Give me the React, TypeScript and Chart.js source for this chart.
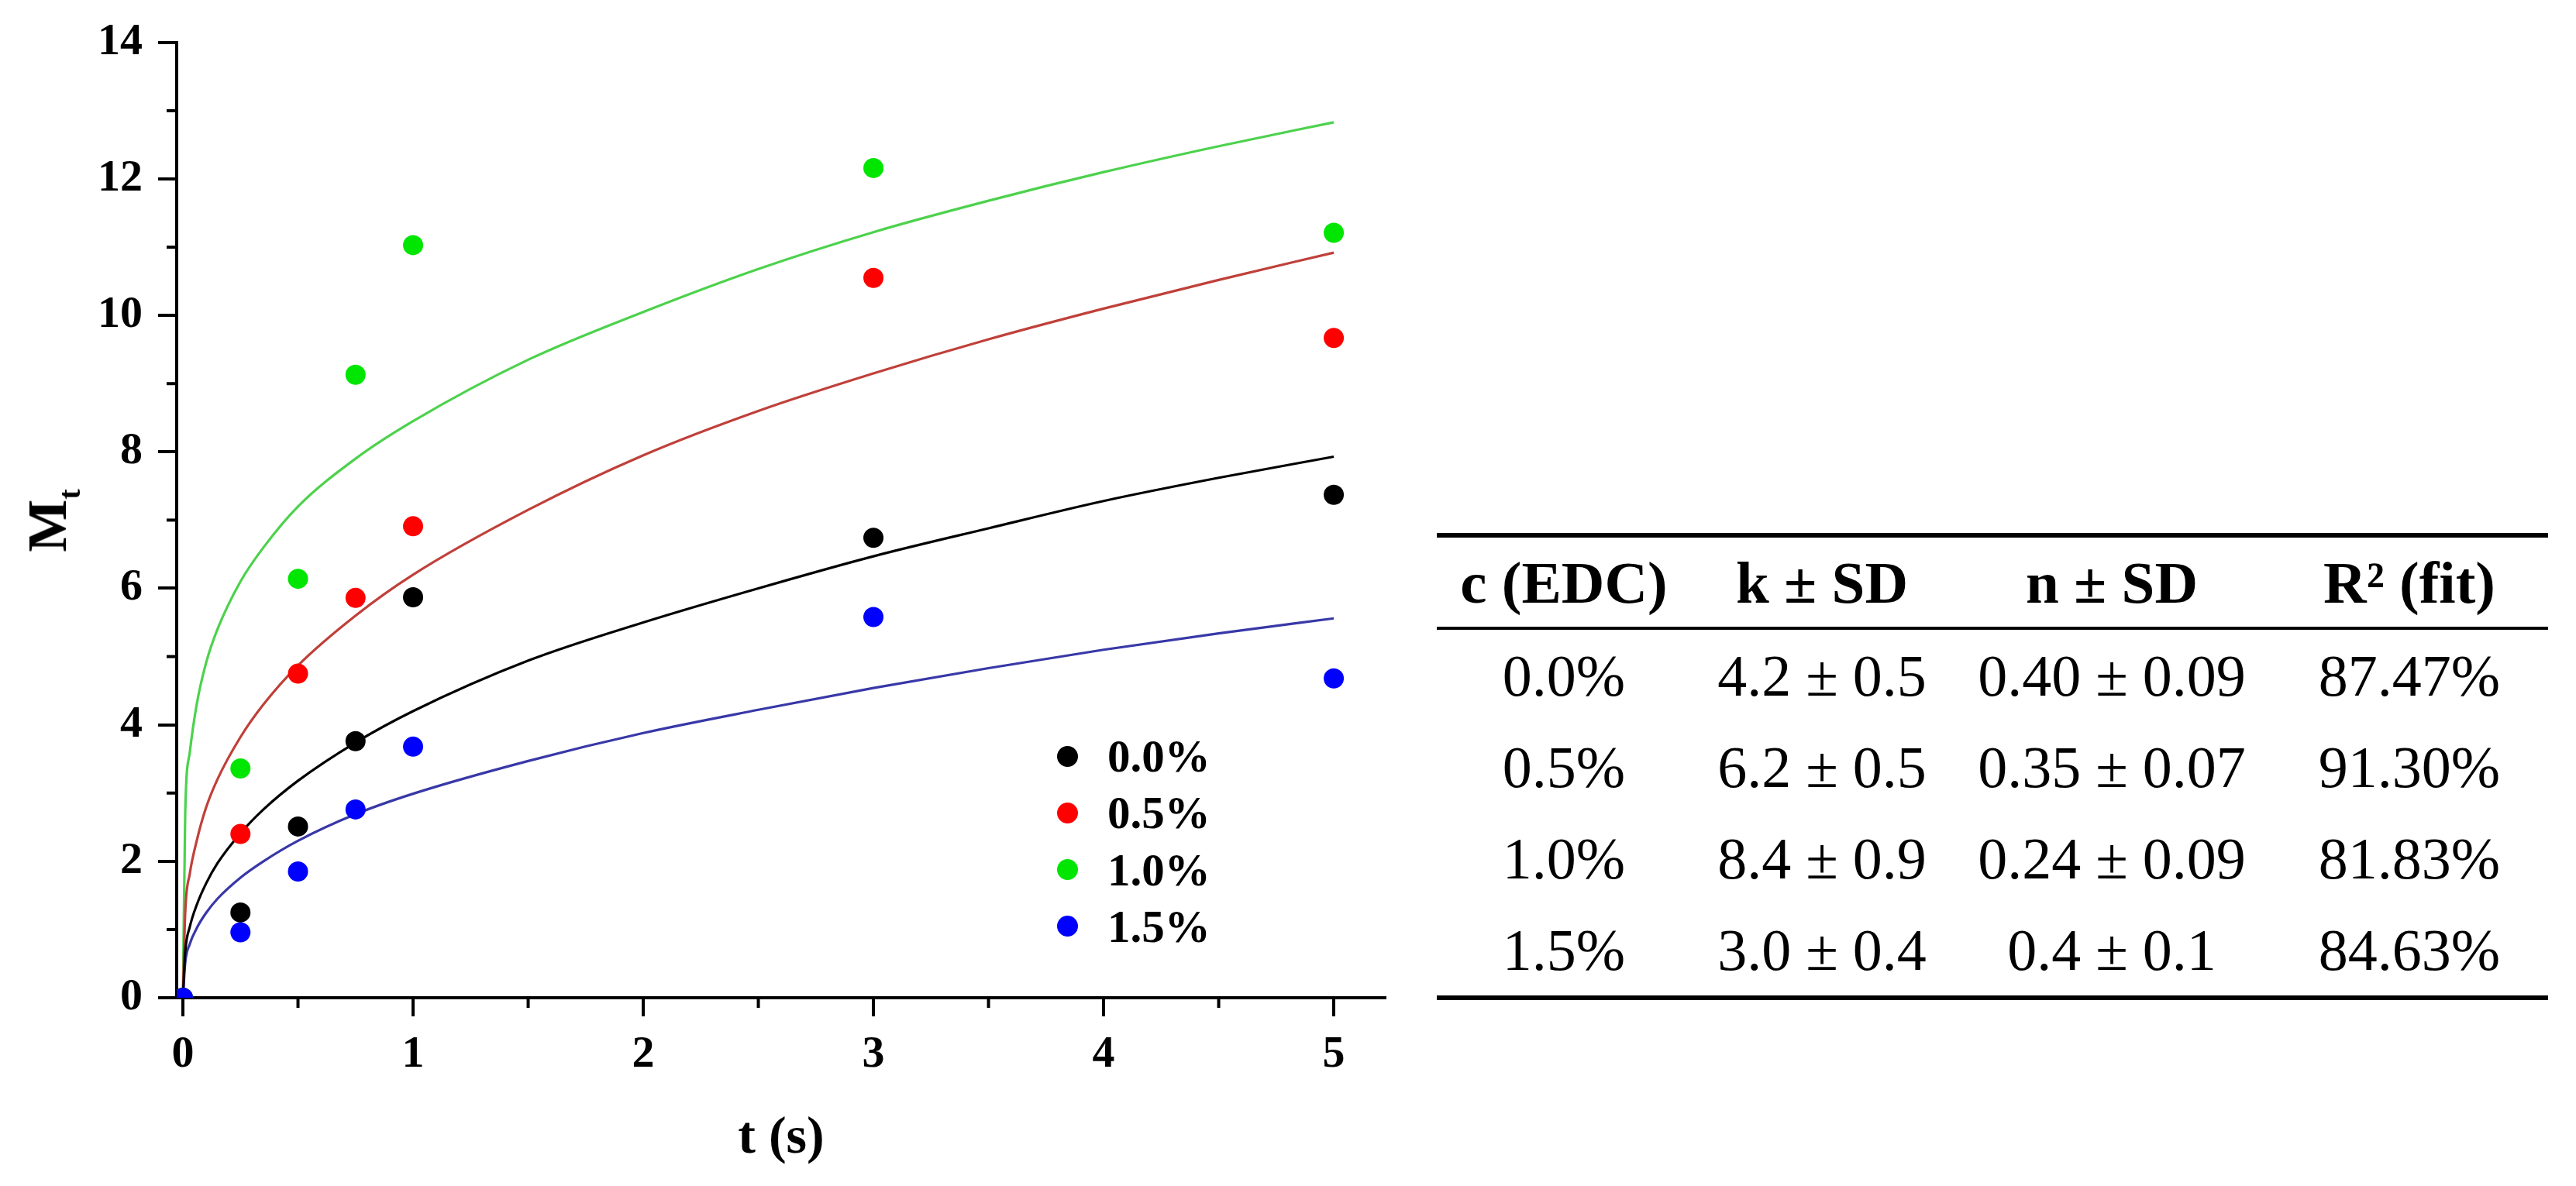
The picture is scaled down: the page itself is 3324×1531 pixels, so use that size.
import React, { useEffect, useRef } from "react";
import { Chart, registerables } from "chart.js";

Chart.register(...registerables);

// ---- data ----
const seriesLabels = ["0.0%", "0.5%", "1.0%", "1.5%"];
const pointColors = ["#000000", "#ff0000", "#00e600", "#0000ff"];
const lineColors = ["#000000", "#c0403a", "#4cd24c", "#3838a8"];

const sampleT = [0, 0.25, 0.5, 0.75, 1, 3, 5];
const m00 = [0, 1.25, 2.51, 3.76, 5.87, 6.74, 7.37];
const m05 = [0, 2.4, 4.75, 5.86, 6.91, 10.55, 9.67];
const m10 = [0, 3.36, 6.14, 9.13, 11.03, 12.16, 11.21];
const m15 = [0, 0.96, 1.85, 2.76, 3.68, 5.58, 4.68];

const fitT = [0, 0.01, 0.03, 0.06, 0.1, 0.15, 0.25, 0.35, 0.5, 0.75, 1, 1.5, 2, 2.5, 3, 3.5, 4, 4.5, 5];
const fit00 = [0, 0.67, 1.04, 1.36, 1.67, 1.97, 2.41, 2.76, 3.18, 3.74, 4.2, 4.94, 5.5, 6.0, 6.47, 6.88, 7.28, 7.62, 7.93];
const fit05 = [0, 1.24, 1.82, 2.3, 2.78, 3.2, 3.82, 4.3, 4.87, 5.6, 6.2, 7.15, 7.95, 8.6, 9.15, 9.65, 10.1, 10.52, 10.92];
const fit10 = [0, 2.7, 3.6, 4.3, 4.9, 5.4, 6.1, 6.6, 7.2, 7.9, 8.45, 9.35, 10.05, 10.68, 11.22, 11.68, 12.1, 12.48, 12.83];
const fit15 = [0, 0.51, 0.79, 1.02, 1.24, 1.45, 1.76, 2.0, 2.3, 2.69, 2.99, 3.47, 3.88, 4.22, 4.54, 4.83, 5.1, 5.34, 5.56];

const xMajorTicks = [0, 1, 2, 3, 4, 5];
const xMinorTicks = [0.5, 1.5, 2.5, 3.5, 4.5];
const yMajorTicks = [0, 2, 4, 6, 8, 10, 12, 14];
const yMinorTicks = [1, 3, 5, 7, 9, 11, 13];
const xRange = [-0.027, 5.222];
const yRange = [0, 14];

const xTitle = "t (s)";
const yTitleMain = "M";
const yTitleSub = "t";

const tableHeader = ["c (EDC)", "k ± SD", "n ± SD", "R² (fit)"];
const concCol = ["0.0%", "0.5%", "1.0%", "1.5%"];
const kCol = ["4.2 ± 0.5", "6.2 ± 0.5", "8.4 ± 0.9", "3.0 ± 0.4"];
const nCol = ["0.40 ± 0.09", "0.35 ± 0.07", "0.24 ± 0.09", "0.4 ± 0.1"];
const r2Col = ["87.47%", "91.30%", "81.83%", "84.63%"];

const measured = [m00, m05, m10, m15];
const fitted = [fit00, fit05, fit10, fit15];

const SERIF = '"Liberation Serif", "Times New Roman", serif';

const minorTicksPlugin = {
  id: "minorTicks",
  afterDraw(chart: any) {
    const { ctx, chartArea, scales } = chart;
    ctx.save();
    ctx.strokeStyle = "#000";
    ctx.lineWidth = 4;
    xMinorTicks.forEach((v) => {
      const px = scales.x.getPixelForValue(v);
      ctx.beginPath();
      ctx.moveTo(px, chartArea.bottom);
      ctx.lineTo(px, chartArea.bottom + 13);
      ctx.stroke();
    });
    yMinorTicks.forEach((v) => {
      const py = scales.y.getPixelForValue(v);
      ctx.beginPath();
      ctx.moveTo(chartArea.left - 13, py);
      ctx.lineTo(chartArea.left, py);
      ctx.stroke();
    });
    ctx.restore();
  },
};

function ChartCanvas() {
  const ref = useRef<HTMLCanvasElement | null>(null);
  useEffect(() => {
    if (!ref.current) return;
    const lineSets = fitted.map((arr, i) => ({
      type: "line" as const,
      label: "fit " + seriesLabels[i],
      data: fitT.map((t, j) => ({ x: t, y: arr[j] })),
      borderColor: lineColors[i],
      backgroundColor: lineColors[i],
      borderWidth: 3.2,
      pointRadius: 0,
      showLine: true,
      fill: false,
      cubicInterpolationMode: "monotone" as const,
      order: 10,
    }));
    const pointSets = measured.map((arr, i) => ({
      type: "scatter" as const,
      label: seriesLabels[i],
      data: sampleT.map((t, j) => ({ x: t, y: arr[j] })),
      backgroundColor: pointColors[i],
      borderColor: pointColors[i],
      borderWidth: 0,
      pointRadius: 13,
      pointHoverRadius: 13,
      order: 4 - i,
    }));
    const tickFont = { family: SERIF, size: 58, weight: "bold" as const };
    const chart = new Chart(ref.current, {
      type: "scatter",
      data: { datasets: [...lineSets, ...pointSets] as any },
      options: {
        animation: false,
        responsive: false,
        devicePixelRatio: 1,
        events: [],
        layout: { padding: { top: 52, right: 11, left: 0, bottom: 0 } },
        plugins: { legend: { display: false }, tooltip: { enabled: false } },
        scales: {
          x: {
            type: "linear",
            min: xRange[0],
            max: xRange[1],
            afterBuildTicks: (s: any) => {
              s.ticks = xMajorTicks.map((v) => ({ value: v }));
            },
            afterFit: (s: any) => {
              s.height = 243;
            },
            ticks: {
              color: "#000",
              font: tickFont,
              padding: 15,
              maxRotation: 0,
              autoSkip: false,
              callback: (v: any) => String(v),
            },
            grid: {
              drawOnChartArea: false,
              color: "#000",
              tickColor: "#000",
              tickLength: 24,
              tickWidth: 4,
              lineWidth: 4,
            },
            border: { color: "#000", width: 4 },
          },
          y: {
            type: "linear",
            min: yRange[0],
            max: yRange[1],
            afterBuildTicks: (s: any) => {
              s.ticks = yMajorTicks.map((v) => ({ value: v }));
            },
            afterFit: (s: any) => {
              s.width = 228;
            },
            ticks: {
              color: "#000",
              font: tickFont,
              padding: 20,
              autoSkip: false,
              callback: (v: any) => String(v),
            },
            grid: {
              drawOnChartArea: false,
              color: "#000",
              tickColor: "#000",
              tickLength: 24,
              tickWidth: 4,
              lineWidth: 4,
            },
            border: { color: "#000", width: 4 },
          },
        },
      } as any,
      plugins: [minorTicksPlugin],
    });
    return () => chart.destroy();
  }, []);
  return (
    <canvas
      ref={ref}
      width={1800}
      height={1531}
      style={{ position: "absolute", left: 0, top: 0, width: 1800, height: 1531 }}
    />
  );
}

export default function App() {
  const cols = [concCol, kCol, nCol, r2Col];
  const colTemplate = "328px 338px 410px 358px";
  return (
    <div
      style={{
        position: "absolute",
        left: 0,
        top: 0,
        width: 3324,
        height: 1531,
        background: "#fff",
        overflow: "hidden",
        fontFamily: SERIF,
        color: "#000",
      }}
    >
      <ChartCanvas />
      {/* y-axis title */}
      <div
        style={{
          position: "absolute",
          left: 61,
          top: 672,
          transform: "translate(-50%, -50%) rotate(-90deg)",
          fontWeight: "bold",
          fontSize: 72,
          lineHeight: "72px",
          whiteSpace: "nowrap",
        }}
      >
        {yTitleMain}
        <span style={{ fontSize: 40, lineHeight: 0, position: "relative", top: 18 }}>{yTitleSub}</span>
      </div>
      {/* x-axis title */}
      <div
        style={{
          position: "absolute",
          left: 1008,
          top: 1465,
          transform: "translate(-50%, -50%)",
          fontWeight: "bold",
          fontSize: 68,
          lineHeight: "68px",
          whiteSpace: "nowrap",
        }}
      >
        {xTitle}
      </div>
      {/* legend */}
      {seriesLabels.map((lab, i) => (
        <div
          key={lab}
          style={{
            position: "absolute",
            left: 1364,
            top: 976 + i * 73.3 - 29,
            height: 58,
            display: "flex",
            alignItems: "center",
          }}
        >
          <div
            style={{
              width: 27,
              height: 27,
              borderRadius: "50%",
              background: pointColors[i],
            }}
          />
          <div
            style={{
              marginLeft: 38,
              fontWeight: "bold",
              fontSize: 59,
              lineHeight: "58px",
              whiteSpace: "nowrap",
            }}
          >
            {lab}
          </div>
        </div>
      ))}
      {/* table */}
      <div style={{ position: "absolute", left: 1854, top: 688, width: 1434 }}>
        <div style={{ height: 6, background: "#000" }} />
        <div
          style={{
            display: "grid",
            gridTemplateColumns: colTemplate,
            height: 115,
            alignItems: "center",
            fontWeight: "bold",
            fontSize: 77,
            lineHeight: "76px",
          }}
        >
          {tableHeader.map((h) => (
            <div key={h} style={{ textAlign: "center", whiteSpace: "nowrap" }}>
              {h}
            </div>
          ))}
        </div>
        <div style={{ height: 4, background: "#000" }} />
        {concCol.map((_, r) => (
          <div
            key={r}
            style={{
              display: "grid",
              gridTemplateColumns: colTemplate,
              height: 118,
              alignItems: "center",
              fontSize: 76,
              lineHeight: "76px",
            }}
          >
            {cols.map((c, ci) => (
              <div key={ci} style={{ textAlign: "center", whiteSpace: "nowrap" }}>
                {c[r]}
              </div>
            ))}
          </div>
        ))}
        <div style={{ height: 6, background: "#000" }} />
      </div>
    </div>
  );
}
